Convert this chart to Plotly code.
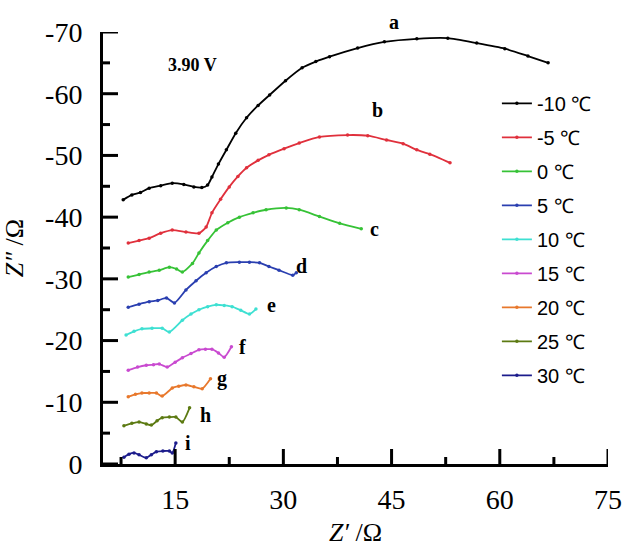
import plotly.graph_objects as go

# ---- data ----
series_names = ["-10 ℃", "-5 ℃", "0 ℃", "5 ℃", "10 ℃", "15 ℃", "20 ℃", "25 ℃", "30 ℃"]
series_colors = ["#000000", "#e0303c", "#36c236", "#2a3fb0", "#3ee0d2", "#c94ad0", "#e8782c", "#5c7a12", "#1c1c8c"]
curve_labels = ["a", "b", "c", "d", "e", "f", "g", "h", "i"]

x_a = [7.8, 9.0, 10.2, 11.4, 13.0, 14.6, 16.2, 17.6, 18.7, 19.5, 20.1, 21.0, 22.1, 23.4, 24.9, 26.5, 28.1, 30.3, 32.6, 34.5, 36.4, 40.3, 44.0, 48.5, 52.8, 56.8, 60.7, 63.9, 66.7]
y_a = [-42.8, -43.6, -44.0, -44.7, -45.1, -45.5, -45.3, -44.9, -44.8, -45.2, -46.5, -48.6, -50.9, -53.6, -56.1, -58.1, -59.8, -62.1, -64.2, -65.2, -66.0, -67.4, -68.4, -68.9, -69.0, -68.2, -67.3, -66.1, -65.0]

x_b = [8.5, 10.0, 11.4, 13.0, 14.6, 16.5, 18.3, 19.3, 20.1, 21.3, 22.5, 23.7, 24.9, 26.5, 28.0, 30.1, 32.2, 35.0, 38.9, 41.7, 44.3, 46.6, 48.5, 50.3, 53.1]
y_b = [-35.8, -36.2, -36.6, -37.4, -37.9, -37.6, -37.4, -38.4, -40.7, -42.9, -44.9, -46.6, -48.0, -49.2, -50.1, -51.1, -52.0, -53.0, -53.3, -53.2, -52.5, -51.9, -50.9, -50.2, -48.8]

x_c = [8.5, 10.0, 11.4, 12.8, 14.2, 15.2, 16.0, 17.4, 18.3, 19.5, 20.7, 22.3, 23.9, 25.8, 27.6, 30.4, 32.2, 35.0, 37.8, 40.8]
y_c = [-30.3, -30.7, -31.1, -31.4, -31.9, -31.6, -31.1, -32.5, -34.2, -36.2, -37.9, -39.1, -40.0, -40.7, -41.2, -41.5, -41.2, -40.1, -39.0, -38.1]

x_d = [8.5, 10.0, 11.4, 12.6, 13.8, 14.9, 16.5, 17.9, 19.3, 20.7, 22.1, 23.9, 25.3, 26.7, 28.0, 29.4, 31.3, 31.8]
y_d = [-25.4, -25.9, -26.3, -26.5, -26.9, -26.1, -28.2, -29.7, -31.0, -32.0, -32.6, -32.7, -32.7, -32.6, -32.0, -31.4, -30.6, -31.0]

x_e = [8.2, 9.3, 10.4, 11.8, 13.2, 14.2, 16.0, 17.2, 18.3, 19.5, 20.7, 21.8, 22.9, 24.1, 25.3, 26.2]
y_e = [-20.9, -21.5, -21.9, -22.0, -22.0, -21.4, -23.3, -24.3, -25.0, -25.5, -25.8, -25.7, -25.5, -24.9, -24.3, -25.1]

x_f = [8.5, 9.8, 11.0, 12.0, 12.8, 13.9, 15.0, 16.0, 17.2, 18.3, 19.2, 20.1, 21.0, 21.8, 22.8]
y_f = [-15.2, -15.7, -16.0, -16.1, -16.2, -15.7, -16.5, -17.2, -17.9, -18.5, -18.6, -18.6, -18.0, -17.3, -19.0]

x_g = [8.5, 9.5, 10.4, 11.4, 12.4, 13.2, 14.6, 15.5, 16.5, 17.6, 18.75, 19.9]
y_g = [-10.9, -11.3, -11.5, -11.5, -11.5, -11.0, -12.3, -12.6, -12.8, -12.5, -12.2, -13.8]

x_h = [7.9, 9.0, 10.0, 11.0, 11.7, 12.5, 13.2, 14.2, 15.1, 16.0, 17.0]
y_h = [-6.2, -6.6, -6.8, -6.5, -6.3, -7.0, -7.5, -7.6, -7.6, -6.8, -9.1]

x_i = [7.9, 8.6, 9.3, 10.0, 11.0, 11.7, 12.4, 13.3, 14.2, 14.6, 15.1]
y_i = [-1.1, -1.6, -1.8, -1.5, -1.0, -1.5, -2.0, -2.1, -2.1, -1.8, -3.4]

xs = [x_a, x_b, x_c, x_d, x_e, x_f, x_g, x_h, x_i]
ys = [y_a, y_b, y_c, y_d, y_e, y_f, y_g, y_h, y_i]

# curve label anchor positions (data coords; "a" sits above the frame)
label_x = [45.4, 43.1, 42.6, 32.5, 28.4, 24.4, 21.5, 19.2, 16.8]
label_y = [-71.6, -57.4, -38.1, -32.1, -25.8, -19.0, -13.9, -7.9, -3.4]
voltage_text = "3.90 V"
voltage_pos = (17.4, -64.7)

x_ticks = [15, 30, 45, 60, 75]
x_tick_labels = ["15", "30", "45", "60", "75"]
x_minor_ticks = [7.5, 22.5, 37.5, 52.5, 67.5]
y_ticks = [0, -10, -20, -30, -40, -50, -60, -70]
y_tick_labels = ["0", "-10", "-20", "-30", "-40", "-50", "-60", "-70"]
y_minor_ticks = [-5, -15, -25, -35, -45, -55, -65]

X_RANGE = [5, 75]
Y_RANGE = [0, -70]
MAJOR_LEN, MINOR_LEN = 15, 7

serif = "Liberation Serif"
sans = "Liberation Sans"

fig = go.Figure()
for i in range(len(series_names)):
    fig.add_trace(go.Scatter(
        x=xs[i], y=ys[i], mode="lines+markers", name=series_names[i],
        legendgroup=f"g{i}",
        line=dict(color=series_colors[i], width=1.8, shape="spline", smoothing=0.6),
        marker=dict(color=series_colors[i], size=3.5, symbol="circle"),
    ))

for i in range(len(curve_labels)):
    ly = label_y[i]
    if ly < Y_RANGE[1]:
        frac = (ly - Y_RANGE[0]) / (Y_RANGE[1] - Y_RANGE[0])
        fig.add_annotation(x=label_x[i], y=frac, xref="x", yref="paper", yanchor="middle",
                           text=f"<b>{curve_labels[i]}</b>", showarrow=False,
                           font=dict(family=serif, size=20, color="black"))
    else:
        fig.add_annotation(x=label_x[i], y=ly, text=f"<b>{curve_labels[i]}</b>",
                           showarrow=False, font=dict(family=serif, size=20, color="black"))
fig.add_annotation(x=voltage_pos[0], y=voltage_pos[1], text=f"<b>{voltage_text}</b>",
                   showarrow=False, font=dict(family=serif, size=18, color="black"))

# inward tick marks along the axes, placed at the tick values (length in pixels)
for vals, ln in ((x_ticks, MAJOR_LEN), (x_minor_ticks, MINOR_LEN)):
    for v in vals:
        fig.add_shape(type="line", xref="x", yref="paper", ysizemode="pixel", yanchor=0,
                      x0=v, x1=v, y0=0, y1=ln, line=dict(color="black", width=3), layer="above")
for vals, ln in ((y_ticks, MAJOR_LEN), (y_minor_ticks, MINOR_LEN)):
    for v in vals:
        fig.add_shape(type="line", xref="paper", yref="y", xsizemode="pixel", xanchor=0,
                      x0=0, x1=ln, y0=v, y1=v, line=dict(color="black", width=3), layer="above")

axis_common = dict(showline=True, linewidth=3, linecolor="black", ticks="",
                   showgrid=False, zeroline=False, automargin=False,
                   tickfont=dict(family=serif, size=28, color="black"))

fig.update_layout(
    xaxis=dict(range=X_RANGE, tickmode="array", tickvals=x_ticks, ticktext=x_tick_labels,
               title=dict(text="<i>Z′</i> /Ω", font=dict(family=serif, size=26, color="black"), standoff=10),
               ticklabelstandoff=8, **axis_common),
    yaxis=dict(range=Y_RANGE, tickmode="array", tickvals=y_ticks, ticktext=y_tick_labels,
               title=dict(text="<i>Z″</i> /Ω", font=dict(family=serif, size=26, color="black"), standoff=14),
               ticklabelstandoff=12, **axis_common),
    width=626, height=548,
    margin=dict(l=103, r=18, t=32, b=84),
    paper_bgcolor="white", plot_bgcolor="white",
    legend=dict(x=0.78, y=0.88, xanchor="left", yanchor="top", bgcolor="rgba(0,0,0,0)",
                font=dict(family=sans, size=20, color="black"), tracegroupgap=5,
                itemwidth=30),
    showlegend=True,
)

fig.write_html("out.html")
